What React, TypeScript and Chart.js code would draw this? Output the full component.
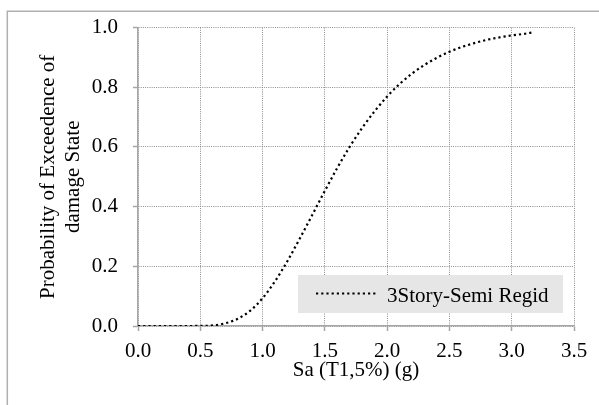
import React, { useEffect, useRef } from "react";
import { Chart, registerables } from "chart.js";

Chart.register(...registerables);

// Spectral acceleration Sa (g)
const saValues = [
  0, 0.1, 0.2, 0.3, 0.4, 0.5, 0.6, 0.7, 0.8, 0.9, 1.0, 1.1, 1.2, 1.3, 1.4, 1.5, 1.6,
  1.7, 1.8, 1.9, 2.0, 2.1, 2.2, 2.3, 2.4, 2.5, 2.6, 2.7, 2.8, 2.9, 3.0, 3.1, 3.17,
];
// Probability of exceedence
const probValues = [
  0, 0, 0, 0, 0, 0.0004, 0.002, 0.009, 0.024, 0.051, 0.093, 0.15, 0.218, 0.294, 0.373,
  0.453, 0.53, 0.601, 0.664, 0.72, 0.769, 0.811, 0.846, 0.875, 0.899, 0.919, 0.935,
  0.948, 0.959, 0.967, 0.974, 0.979, 0.984,
];
const seriesLabel = "3Story-Semi Regid";
const xTitle = "Sa (T1,5%) (g)";
const yTitle = ["Probability of Exceedence of", "damage State"];
const xRange = [0, 3.5];
const yRange = [0, 1];
const xStep = 0.5;
const yStep = 0.2;

const FONT = "'Liberation Serif', 'Times New Roman', serif";
const AXIS = "#a6a6a6";
const GRID = "#8c8c8c";
const TEXT = "#000000";
const DOT_DASH = [2.2, 3];

const framePlugin = {
  id: "frame",
  beforeDraw(chart: any) {
    const ctx = chart.ctx;
    ctx.save();
    ctx.strokeStyle = "#b0b0b0";
    ctx.lineWidth = 1.5;
    ctx.beginPath();
    ctx.moveTo(7.3, 405);
    ctx.lineTo(7.3, 11.2);
    ctx.lineTo(599, 11.2);
    ctx.stroke();
    ctx.restore();
  },
};

const legendPlugin = {
  id: "customLegend",
  afterDraw(chart: any) {
    const ctx = chart.ctx;
    const ds = chart.data.datasets[0];
    const bx = 298;
    const by = 275;
    const bw = 265;
    const bh = 38;
    ctx.save();
    ctx.fillStyle = "#e6e6e6";
    ctx.fillRect(bx, by, bw, bh);
    ctx.strokeStyle = "#000";
    ctx.lineWidth = 2.2;
    ctx.setLineDash(DOT_DASH);
    ctx.beginPath();
    ctx.moveTo(316, 293.5);
    ctx.lineTo(378, 293.5);
    ctx.stroke();
    ctx.setLineDash([]);
    ctx.fillStyle = TEXT;
    ctx.font = `21px ${FONT}`;
    ctx.textBaseline = "alphabetic";
    ctx.textAlign = "left";
    ctx.fillText(ds.label, 387, 301.5);
    ctx.restore();
  },
};

export default function App() {
  const canvasRef = useRef<HTMLCanvasElement | null>(null);

  useEffect(() => {
    if (!canvasRef.current) return;
    const points = saValues.map((x, i) => ({ x, y: probValues[i] }));
    const chart = new Chart(canvasRef.current, {
      type: "line",
      data: {
        datasets: [
          {
            label: seriesLabel,
            data: points,
            borderColor: "#000000",
            borderWidth: 2.2,
            borderDash: DOT_DASH,
            pointRadius: 0,
            fill: false,
            cubicInterpolationMode: "monotone",
          },
        ],
      },
      options: {
        animation: false,
        responsive: false,
        layout: { padding: { top: 24, right: 25, bottom: 21.8, left: 0 } },
        plugins: {
          legend: { display: false },
          tooltip: { enabled: false },
        },
        scales: {
          x: {
            type: "linear",
            min: xRange[0],
            max: xRange[1],
            afterFit: (s: any) => {
              s.height = 57.2;
            },
            ticks: {
              stepSize: xStep,
              callback: (v: any) => Number(v).toFixed(1),
              font: { family: FONT, size: 21 },
              color: TEXT,
              padding: 8,
              maxRotation: 0,
            },
            grid: {
              color: GRID,
              lineWidth: 1,
              tickColor: AXIS,
              tickLength: 5,
              tickWidth: 1.5,
            },
            border: { display: true, color: AXIS, width: 1.5, dash: [1, 1.2] },
            title: {
              display: true,
              text: xTitle,
              font: { family: FONT, size: 21 },
              color: TEXT,
              padding: { top: 0, bottom: 0 },
            },
          },
          y: {
            type: "linear",
            min: yRange[0],
            max: yRange[1],
            afterFit: (s: any) => {
              s.width = 138;
            },
            ticks: {
              stepSize: yStep,
              callback: (v: any) => Number(v).toFixed(1),
              font: { family: FONT, size: 21 },
              color: TEXT,
              padding: 15,
            },
            grid: {
              color: GRID,
              lineWidth: 1,
              tickColor: AXIS,
              tickLength: 5,
              tickWidth: 1.5,
            },
            border: { display: true, color: AXIS, width: 1.5, dash: [1, 1.2] },
            title: {
              display: true,
              text: yTitle,
              font: { family: FONT, size: 21 },
              color: TEXT,
              padding: { top: 36, bottom: 0 },
            },
          },
        },
      },
      plugins: [framePlugin, legendPlugin],
    } as any);
    return () => chart.destroy();
  }, []);

  return (
    <div style={{ position: "fixed", left: 0, top: 0, width: 599, height: 405, background: "#fff" }}>
      <canvas ref={canvasRef} width={599} height={405} style={{ display: "block" }} />
    </div>
  );
}
